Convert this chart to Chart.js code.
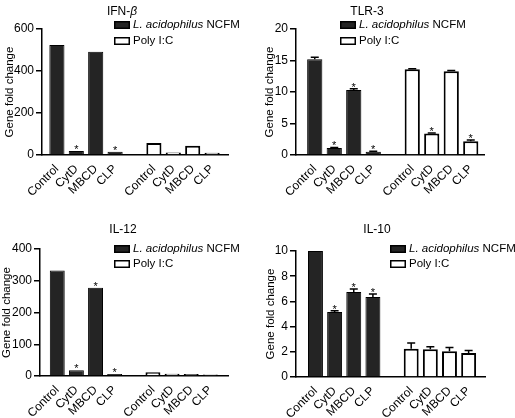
<!DOCTYPE html>
<html>
<head>
<meta charset="utf-8">
<script src="https://cdn.jsdelivr.net/npm/chart.js@4"></script>
<style>
body { margin: 0; background: #fff; }
#wrap { position: relative; width: 515px; height: 418px; }
canvas { position: absolute; }
</style>
</head>
<body>
<div id="wrap">
  <canvas id="ifn" width="257" height="205" style="left:0;top:0"></canvas>
  <canvas id="tlr" width="258" height="205" style="left:257px;top:0"></canvas>
  <canvas id="il12" width="257" height="213" style="left:0;top:205px"></canvas>
  <canvas id="il10" width="258" height="213" style="left:257px;top:205px"></canvas>
</div>
<script>
// カテゴリ
const groupLabels = ['Control', 'CytD', 'MBCD', 'CLP'];
const xLabels = [...groupLabels, '', ...groupLabels];

// IFN-β
const ifnAcid = [524, 19, 492, 16];
const ifnAcidErr = [0, 0, 0, 0];
const ifnAcidStar = [false, true, false, true];
const ifnPoly = [57, 12, 44, 11];
const ifnPolyErr = [0, 0, 0, 0];
const ifnPolyStar = [false, false, false, false];

// TLR-3
const tlrAcid = [15.2, 1.1, 10.3, 0.5];
const tlrAcidErr = [0.3, 0.1, 0.2, 0.1];
const tlrAcidStar = [false, true, true, true];
const tlrPoly = [13.6, 3.4, 13.3, 2.2];
const tlrPolyErr = [0.1, 0.1, 0.1, 0.2];
const tlrPolyStar = [false, true, false, true];

// IL-12
const il12Acid = [332, 18, 278, 6];
const il12AcidErr = [0, 0, 0, 0];
const il12AcidStar = [false, true, true, true];
const il12Poly = [12, 7, 6, 5];
const il12PolyErr = [0, 0, 0, 0];
const il12PolyStar = [false, false, false, false];

// IL-10
const il10Acid = [10, 5.15, 6.75, 6.35];
const il10AcidErr = [0, 0.1, 0.24, 0.24];
const il10AcidStar = [false, true, true, true];
const il10Poly = [2.25, 2.2, 2.05, 1.9];
const il10PolyErr = [0.45, 0.2, 0.3, 0.2];
const il10PolyStar = [false, false, false, false];

// 凡例ラベル（斜体部分つき）
const acidLabel = [['L. acidophilus', true], [' NCFM', false]];
const polyLabel = [['Poly I:C', false]];

const FONT = '"Liberation Sans", Arial, sans-serif';
const DARK = '#242424';

function leftHalf(arr) { return [...arr, null, null, null, null, null]; }
function rightHalf(arr) { return [null, null, null, null, null, ...arr]; }

// 斜体と通常を混ぜて描く
function drawRuns(ctx, runs, x, y, size, align) {
    let total = 0;
    runs.forEach(([t, it]) => {
        ctx.font = (it ? 'italic ' : '') + size + 'px ' + FONT;
        total += ctx.measureText(t).width;
    });
    let cx = align === 'center' ? x - total / 2 : x;
    ctx.textAlign = 'left';
    ctx.textBaseline = 'middle';
    runs.forEach(([t, it]) => {
        ctx.font = (it ? 'italic ' : '') + size + 'px ' + FONT;
        ctx.fillText(t, cx, y);
        cx += ctx.measureText(t).width;
    });
}

// x軸の両端に少し余白を入れる（軸線はそのまま）
const axisInset = {
    id: 'axisInset',
    afterLayout(chart, args, opts) {
        const x = chart.scales.x;
        x._startPixel = x.left + opts.l;
        x._endPixel = x.right - opts.r;
        x._length = x._endPixel - x._startPixel;
    }
};

const panelTitle = {
    id: 'panelTitle',
    afterDraw(chart, args, opts) {
        const ctx = chart.ctx;
        ctx.save();
        ctx.fillStyle = '#000';
        drawRuns(ctx, opts.runs, opts.x, opts.y, 12, 'center');
        ctx.restore();
    }
};

const boxLegend = {
    id: 'boxLegend',
    afterDraw(chart, args, opts) {
        const ctx = chart.ctx;
        ctx.save();
        chart.data.datasets.forEach((ds, i) => {
            const y = opts.y + i * opts.gap;
            ctx.fillStyle = ds.backgroundColor;
            ctx.fillRect(opts.x, y - 4, 16, 8);
            ctx.strokeStyle = '#000';
            ctx.lineWidth = 1.5;
            ctx.strokeRect(opts.x + 0.75, y - 3.25, 14.5, 6.5);
            ctx.fillStyle = '#000';
            drawRuns(ctx, ds.legendRuns, opts.x + 19, y, 11.5, 'left');
        });
        ctx.restore();
    }
};

// エラーバーと有意差の星
const errorStars = {
    id: 'errorStars',
    afterDatasetsDraw(chart) {
        const ctx = chart.ctx;
        const yScale = chart.scales.y;
        ctx.save();
        ctx.strokeStyle = '#000';
        ctx.lineWidth = 1.5;
        chart.data.datasets.forEach((ds, di) => {
            const meta = chart.getDatasetMeta(di);
            meta.data.forEach((bar, i) => {
                const v = ds.data[i];
                if (v == null) return;
                let top = bar.y;
                const err = ds.errors[i] || 0;
                if (err > 0) {
                    const ey = yScale.getPixelForValue(v + err);
                    ctx.beginPath();
                    ctx.moveTo(bar.x, bar.y);
                    ctx.lineTo(bar.x, ey);
                    ctx.moveTo(bar.x - 4, ey);
                    ctx.lineTo(bar.x + 4, ey);
                    ctx.stroke();
                    top = ey;
                }
                if (ds.stars[i]) {
                    ctx.fillStyle = '#000';
                    ctx.font = '11px ' + FONT;
                    ctx.textAlign = 'center';
                    ctx.textBaseline = 'alphabetic';
                    ctx.fillText('*', bar.x, top + 2);
                }
            });
        });
        ctx.restore();
    }
};

function makePanel(id, p) {
    new Chart(document.getElementById(id), {
        type: 'bar',
        data: {
            labels: xLabels,
            datasets: [{
                label: 'L. acidophilus NCFM',
                legendRuns: acidLabel,
                data: leftHalf(p.acid),
                errors: leftHalf(p.acidErr),
                stars: leftHalf(p.acidStar),
                backgroundColor: DARK,
                borderColor: '#000',
                borderWidth: 1,
                grouped: false
            }, {
                label: 'Poly I:C',
                legendRuns: polyLabel,
                data: rightHalf(p.poly),
                errors: rightHalf(p.polyErr),
                stars: rightHalf(p.polyStar),
                backgroundColor: '#fff',
                borderColor: '#000',
                borderWidth: 2,
                grouped: false
            }]
        },
        options: {
            responsive: false,
            animation: false,
            barPercentage: 0.78,
            categoryPercentage: 1,
            layout: { padding: { left: 0, top: p.top, right: p.right, bottom: 0 } },
            scales: {
                x: {
                    grid: { display: false, drawTicks: false },
                    border: { display: true, color: '#000', width: 1.5 },
                    ticks: {
                        autoSkip: false, maxRotation: 45, minRotation: 45,
                        color: '#000', font: { family: FONT, size: 12 }, padding: 7
                    },
                    afterFit: s => { s.height = p.xh; }
                },
                y: {
                    min: 0, max: p.ymax,
                    ticks: { stepSize: p.step, color: '#000', font: { family: FONT, size: 12 }, padding: 2 },
                    grid: { drawOnChartArea: false, drawTicks: true, tickLength: 6, color: '#000', lineWidth: 1.5 },
                    border: { display: true, color: '#000', width: 1.5 },
                    title: {
                        display: true, text: 'Gene fold change', color: '#000',
                        font: { family: FONT, size: 11.5 }, padding: { top: p.tp, bottom: 0 }
                    },
                    afterFit: s => { s.width = p.yw; }
                }
            },
            plugins: {
                legend: { display: false },
                tooltip: { enabled: false },
                axisInset: { l: p.il, r: p.ir },
                panelTitle: { runs: p.title, x: p.tx, y: p.ty },
                boxLegend: { x: p.lx, y: p.ly, gap: p.lg }
            }
        },
        plugins: [axisInset, errorStars, panelTitle, boxLegend]
    });
}

makePanel('ifn', {
    acid: ifnAcid, acidErr: ifnAcidErr, acidStar: ifnAcidStar,
    poly: ifnPoly, polyErr: ifnPolyErr, polyStar: ifnPolyStar,
    ymax: 600, step: 200, title: [['IFN-', false], ['β', true]],
    top: 29, right: 29, xh: 50, yw: 42, tp: 3, il: 5.2, ir: 6.2,
    tx: 122, ty: 12, lx: 114, ly: 25, lg: 16
});
makePanel('tlr', {
    acid: tlrAcid, acidErr: tlrAcidErr, acidStar: tlrAcidStar,
    poly: tlrPoly, polyErr: tlrPolyErr, polyStar: tlrPolyStar,
    ymax: 20, step: 5, title: [['TLR-3', false]],
    top: 29, right: 31, xh: 50, yw: 39, tp: 6, il: 9, ir: 3.5,
    tx: 110, ty: 12, lx: 83, ly: 25, lg: 16
});
makePanel('il12', {
    acid: il12Acid, acidErr: il12AcidErr, acidStar: il12AcidStar,
    poly: il12Poly, polyErr: il12PolyErr, polyStar: il12PolyStar,
    ymax: 400, step: 100, title: [['IL-12', false]],
    top: 44, right: 29, xh: 42, yw: 40, tp: 0, il: 7.7, ir: 8.1,
    tx: 123, ty: 25, lx: 114, ly: 44, lg: 15
});
makePanel('il10', {
    acid: il10Acid, acidErr: il10AcidErr, acidStar: il10AcidStar,
    poly: il10Poly, polyErr: il10PolyErr, polyStar: il10PolyStar,
    ymax: 10, step: 2, title: [['IL-10', false]],
    top: 46, right: 30, xh: 41, yw: 39, tp: 7, il: 9.9, ir: 6.8,
    tx: 120, ty: 25, lx: 133, ly: 44, lg: 15
});
</script>
</body>
</html>
